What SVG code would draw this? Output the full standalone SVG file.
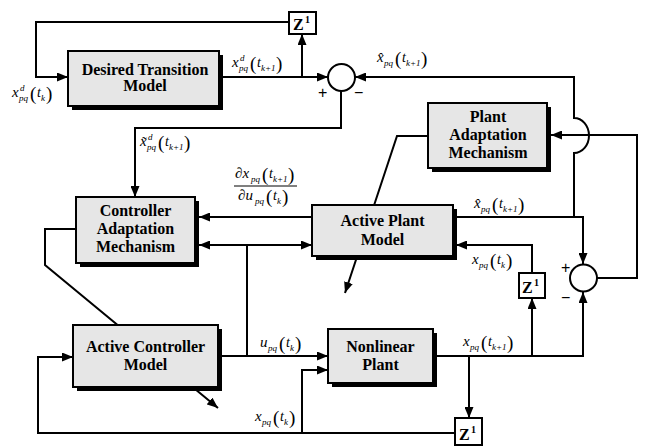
<svg xmlns="http://www.w3.org/2000/svg" width="647" height="446" viewBox="0 0 647 446">
<style>
.ln{fill:none;stroke:#000;stroke-width:2}
.arr{marker-end:url(#ah)}
.box{fill:#e6e6e6;stroke:#000;stroke-width:2}
.sh{fill:#000}
.bt{font-family:"Liberation Serif",serif;font-weight:bold;font-size:16px;text-anchor:middle;fill:#000}
.zb{fill:#fff;stroke:#000;stroke-width:2}
.zt{font-family:"Liberation Serif",serif;font-weight:bold;font-size:16px;fill:#000}
.zs{font-size:10px}
.m{font-family:"Liberation Serif",serif;font-style:italic;font-size:15px;fill:#000}
.s{font-size:9px}
.p{font-style:normal;font-size:19px}
.t{font-size:14px}
.sg{font-family:"Liberation Sans",sans-serif;font-size:16px;fill:#000}
.sum{fill:#fff;stroke:#000;stroke-width:2}
</style>
<defs>
<marker id="ah" markerWidth="11" markerHeight="9" refX="11" refY="4.5" orient="auto-start-reverse" markerUnits="userSpaceOnUse">
<path d="M0,0 L11,4.5 L0,9 z" fill="#000"/>
</marker>
</defs>

<g id="connectors">
<polyline class="ln arr" points="289,22 36,22 36,77 68,77"/>
<line class="ln arr" x1="222" y1="77" x2="328" y2="77"/>
<line class="ln arr" x1="302" y1="77" x2="302" y2="34"/>
<polyline class="ln arr" points="341,91 341,128 135,128 135,197"/>
<polyline class="ln arr" points="456,217 583,217 583,264"/>
<path class="ln arr" d="M574,217 L574,153 A15 17.5 0 0 0 574,118 L574,77 L355,77"/>
<polyline class="ln arr" points="597,278 637,278 637,135 551,135"/>
<polyline class="ln arr" points="428,136 397,136 345,293"/>
<line class="ln arr" x1="312" y1="217" x2="199" y2="217"/>
<line class="ln arr" x1="247" y1="245" x2="312" y2="245"/>
<line class="ln arr" x1="247" y1="245" x2="199" y2="245"/>
<line class="ln" x1="247" y1="245" x2="247" y2="356"/>
<line class="ln arr" x1="222" y1="356" x2="328" y2="356"/>
<polyline class="ln arr" points="302,433 302,370 328,370"/>
<polyline class="ln arr" points="76,229 45,229 45,265 218,408"/>
<polyline class="ln arr" points="455,433 38,433 38,357 73,357"/>
<polyline class="ln arr" points="437,356 583,356 583,292"/>
<line class="ln arr" x1="532" y1="356" x2="532" y2="298"/>
<polyline class="ln arr" points="532,273 532,245 456,245"/>
<line class="ln arr" x1="469" y1="356" x2="469" y2="418"/>
</g>

<g id="sum1">
<circle class="sum" cx="341.5" cy="77.5" r="13.5"/>
<text class="sg" x="318" y="98">+</text>
<text class="sg" x="354" y="98">−</text>
</g>
<g id="sum2">
<circle class="sum" cx="583.5" cy="278" r="13.5"/>
<text class="sg" x="561" y="273">+</text>
<text class="sg" x="561" y="303">−</text>
</g>

<g id="desired">
<rect class="sh" x="72" y="55" width="151" height="55"/>
<rect class="box" x="68" y="51" width="151" height="55"/>
<text class="bt" x="145" y="75">Desired Transition</text>
<text class="bt" x="145" y="91">Model</text>
</g>

<g id="plantadapt">
<rect class="sh" x="432" y="107" width="119" height="65"/>
<rect class="box" x="428" y="103" width="119" height="65"/>
<text class="bt" x="488" y="122">Plant</text>
<text class="bt" x="488" y="140">Adaptation</text>
<text class="bt" x="488" y="158">Mechanism</text>
</g>

<g id="ctrladapt">
<rect class="sh" x="80" y="201" width="119" height="66"/>
<rect class="box" x="76" y="197" width="119" height="66"/>
<text class="bt" x="135.5" y="216">Controller</text>
<text class="bt" x="135.5" y="234">Adaptation</text>
<text class="bt" x="135.5" y="252">Mechanism</text>
</g>

<g id="activeplant">
<rect class="sh" x="316" y="209" width="141" height="51"/>
<rect class="box" x="312" y="205" width="141" height="51"/>
<text class="bt" x="382.5" y="226">Active Plant</text>
<text class="bt" x="382.5" y="245">Model</text>
</g>

<g id="activectrl">
<rect class="sh" x="77" y="329" width="145" height="62"/>
<rect class="box" x="73" y="325" width="145" height="62"/>
<text class="bt" x="145.5" y="352">Active Controller</text>
<text class="bt" x="145.5" y="370">Model</text>
</g>

<g id="nonlinear">
<rect class="sh" x="332" y="333" width="105" height="54"/>
<rect class="box" x="328" y="329" width="105" height="54"/>
<text class="bt" x="380.5" y="352">Nonlinear</text>
<text class="bt" x="380.5" y="370">Plant</text>
</g>

<g id="z1">
<rect class="zb" x="289" y="12" width="27" height="22"/>
<text class="zt" x="293" y="30">Z<tspan class="zs" x="305" y="23">1</tspan></text>
</g>
<g id="z2">
<rect class="zb" x="519" y="273" width="26" height="25"/>
<text class="zt" x="522" y="293">Z<tspan class="zs" x="534" y="286">1</tspan></text>
</g>
<g id="z3">
<rect class="zb" x="455" y="418" width="27" height="27"/>
<text class="zt" x="459" y="440">Z<tspan class="zs" x="471" y="433">1</tspan></text>
</g>

<g id="labels">
<text class="m"><tspan x="12" y="97">x</tspan><tspan class="s" x="20" y="91">d</tspan><tspan class="s" x="19" y="101">pq</tspan><tspan class="p" x="30" y="100">(</tspan><tspan class="t" x="37" y="97">t</tspan><tspan class="s" x="41" y="101">k</tspan><tspan class="p" x="46" y="100">)</tspan></text>
<text class="m"><tspan x="232" y="67">x</tspan><tspan class="s" x="240" y="61">d</tspan><tspan class="s" x="239" y="71">pq</tspan><tspan class="p" x="250" y="70">(</tspan><tspan class="t" x="257" y="67">t</tspan><tspan class="s" x="261" y="71">k+1</tspan><tspan class="p" x="276" y="70">)</tspan></text>
<text class="m"><tspan x="377" y="62">x&#x302;</tspan><tspan class="s" x="384" y="66">pq</tspan><tspan class="p" x="395" y="65">(</tspan><tspan class="t" x="402" y="62">t</tspan><tspan class="s" x="406" y="66">k+1</tspan><tspan class="p" x="421" y="65">)</tspan></text>
<text class="m"><tspan x="140" y="146">x&#x303;</tspan><tspan class="s" x="148" y="140">d</tspan><tspan class="s" x="147" y="150">pq</tspan><tspan class="p" x="158" y="149">(</tspan><tspan class="t" x="165" y="146">t</tspan><tspan class="s" x="169" y="150">k+1</tspan><tspan class="p" x="184" y="149">)</tspan></text>
<text class="m"><tspan x="235" y="178">∂x</tspan><tspan class="s" x="251" y="182">pq</tspan><tspan class="p" x="262" y="181">(</tspan><tspan class="t" x="269" y="178">t</tspan><tspan class="s" x="273" y="182">k+1</tspan><tspan class="p" x="288" y="181">)</tspan></text>
<line x1="234" y1="186" x2="297" y2="186" stroke="#000" stroke-width="1"/>
<text class="m"><tspan x="238" y="200">∂u</tspan><tspan class="s" x="255" y="204">pq</tspan><tspan class="p" x="266" y="203">(</tspan><tspan class="t" x="273" y="200">t</tspan><tspan class="s" x="277" y="204">k</tspan><tspan class="p" x="282" y="203">)</tspan></text>
<text class="m"><tspan x="474" y="208">x&#x302;</tspan><tspan class="s" x="481" y="212">pq</tspan><tspan class="p" x="492" y="211">(</tspan><tspan class="t" x="499" y="208">t</tspan><tspan class="s" x="503" y="212">k+1</tspan><tspan class="p" x="518" y="211">)</tspan></text>
<text class="m"><tspan x="472" y="264">x</tspan><tspan class="s" x="479" y="268">pq</tspan><tspan class="p" x="490" y="267">(</tspan><tspan class="t" x="497" y="264">t</tspan><tspan class="s" x="501" y="268">k</tspan><tspan class="p" x="506" y="267">)</tspan></text>
<text class="m"><tspan x="260" y="347">u</tspan><tspan class="s" x="268" y="351">pq</tspan><tspan class="p" x="279" y="350">(</tspan><tspan class="t" x="286" y="347">t</tspan><tspan class="s" x="290" y="351">k</tspan><tspan class="p" x="295" y="350">)</tspan></text>
<text class="m"><tspan x="255" y="421">x</tspan><tspan class="s" x="262" y="425">pq</tspan><tspan class="p" x="273" y="424">(</tspan><tspan class="t" x="280" y="421">t</tspan><tspan class="s" x="284" y="425">k</tspan><tspan class="p" x="289" y="424">)</tspan></text>
<text class="m"><tspan x="463" y="346">x</tspan><tspan class="s" x="470" y="350">pq</tspan><tspan class="p" x="481" y="349">(</tspan><tspan class="t" x="488" y="346">t</tspan><tspan class="s" x="492" y="350">k+1</tspan><tspan class="p" x="507" y="349">)</tspan></text>
</g>
</svg>
